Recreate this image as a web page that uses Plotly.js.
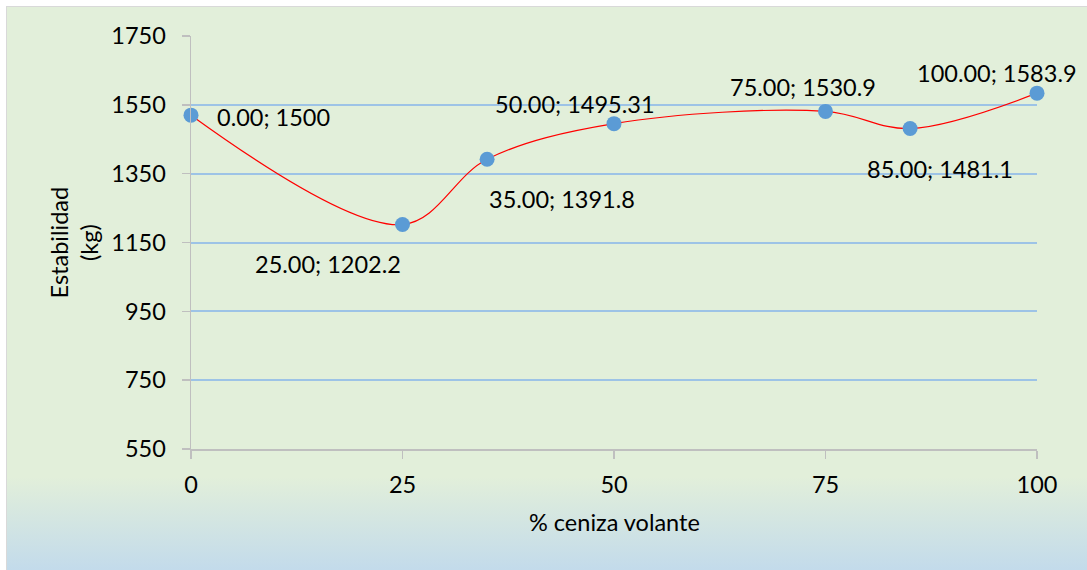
<!DOCTYPE html>
<html>
<head>
<meta charset="utf-8">
<script src="https://cdn.plot.ly/plotly-3.0.1.min.js"></script>
<style>
  html, body { margin: 0; padding: 0; background: #ffffff; width: 1087px; height: 570px; overflow: hidden; }
  #bg { position: absolute; left: 6px; top: 6px; width: 1100px; height: 580px;
        border: 1px solid #d9d9d9;
        background: linear-gradient(to bottom, #e2efda 0%, #e2efda 81%, #bdd7ee 100%); }
  #chart { position: absolute; left: 0; top: 0; width: 1087px; height: 570px; }
</style>
</head>
<body>
<div id="bg"></div>
<div id="chart"></div>
<script>
// Data
const cenizaPct = [0, 25, 35, 50, 75, 85, 100];
const estabilidad = [1520, 1202.2, 1391.8, 1495.31, 1530.9, 1481.1, 1583.9];
const pointLabels = ["0.00; 1500", "25.00; 1202.2", "35.00; 1391.8", "50.00; 1495.31",
                     "75.00; 1530.9", "85.00; 1481.1", "100.00; 1583.9"];
const xTicks = [0, 25, 50, 75, 100];
const yTicks = [550, 750, 950, 1150, 1350, 1550, 1750];

// label offsets (pixels) relative to each point
const labelShift = [
  {xa: 'left',   dx: 24,  dy: -2},
  {xa: 'center', dx: -75, dy: -39},
  {xa: 'left',   dx: 0,   dy: -40},
  {xa: 'center', dx: -39, dy: 20},
  {xa: 'center', dx: -23, dy: 24},
  {xa: 'center', dx: 30,  dy: -40},
  {xa: 'center', dx: -40, dy: 20}
];

const FONT = 'Lato, "Open Sans", sans-serif';
const FS = 23.5;

const trace = {
  x: cenizaPct, y: estabilidad,
  type: 'scatter', mode: 'lines+markers',
  line: {color: '#ff0000', width: 1.2, shape: 'spline', smoothing: 1},
  marker: {color: '#5b9bd5', size: 15},
  cliponaxis: false,
  hoverinfo: 'skip'
};

const annotations = pointLabels.map((t, i) => ({
  x: cenizaPct[i], y: estabilidad[i], xref: 'x', yref: 'y',
  text: t, showarrow: false,
  xanchor: labelShift[i].xa, yanchor: 'middle',
  xshift: labelShift[i].dx, yshift: labelShift[i].dy,
  font: {family: FONT, size: FS, color: '#000000'}
}));

annotations.push({
  xref: 'paper', yref: 'paper', x: 0, y: 0.5, xshift: -117,
  text: 'Estabilidad<br>(kg)', textangle: -90, showarrow: false,
  xanchor: 'center', yanchor: 'middle',
  font: {family: FONT, size: FS, color: '#000000'}
});
annotations.push({
  xref: 'paper', yref: 'paper', x: 0.5, y: 0, yshift: -73,
  text: '% ceniza volante', showarrow: false,
  xanchor: 'center', yanchor: 'middle',
  font: {family: FONT, size: FS, color: '#000000'}
});

const layout = {
  width: 1087, height: 570,
  paper_bgcolor: 'rgba(0,0,0,0)', plot_bgcolor: 'rgba(0,0,0,0)',
  margin: {l: 191, r: 50, t: 36, b: 121, pad: 0},
  showlegend: false,
  font: {family: FONT, size: FS, color: '#000000'},
  xaxis: {
    range: [0, 100], tickvals: xTicks, ticktext: xTicks.map(String),
    showgrid: false, zeroline: false,
    showline: true, linecolor: '#bfbfbf', linewidth: 1.5,
    ticks: 'outside', ticklen: 8, tickcolor: '#bfbfbf', tickwidth: 1.5,
    ticklabelstandoff: 6,
    tickfont: {family: FONT, size: FS, color: '#000000'},
    fixedrange: true
  },
  yaxis: {
    range: [550, 1750], tickvals: yTicks, ticktext: yTicks.map(String),
    showgrid: true, gridcolor: '#9dc3e6', gridwidth: 2,
    zeroline: false,
    showline: true, linecolor: '#bfbfbf', linewidth: 1.5,
    ticks: 'outside', ticklen: 8, tickcolor: '#bfbfbf', tickwidth: 1.5,
    ticklabelstandoff: 11,
    tickfont: {family: FONT, size: FS, color: '#000000'},
    fixedrange: true
  },
  annotations: annotations
};

Plotly.newPlot('chart', [trace], layout, {displayModeBar: false, staticPlot: true});
</script>
</body>
</html>
